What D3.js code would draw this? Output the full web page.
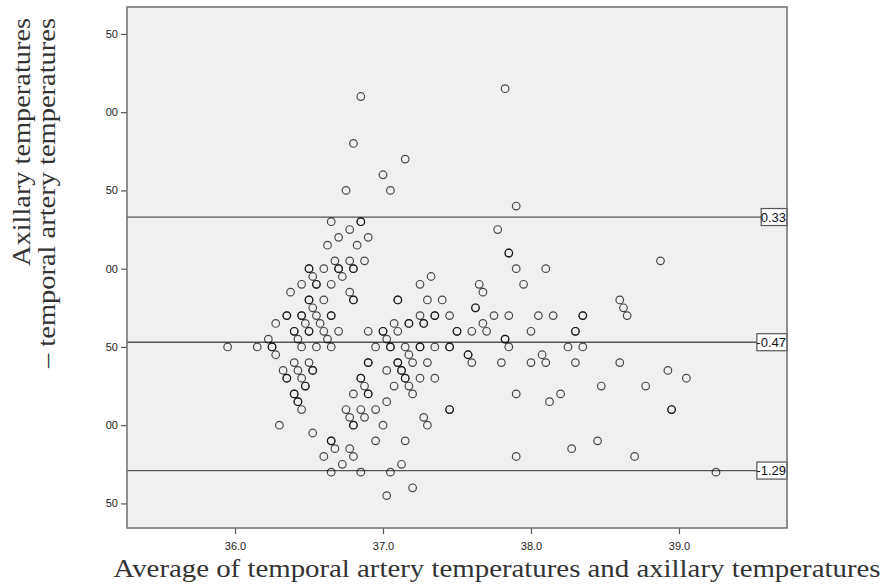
<!DOCTYPE html>
<html>
<head>
<meta charset="utf-8">
<script src="https://cdn.jsdelivr.net/npm/d3@7"></script>
<style>
  body { margin: 0; background: #fff; }
  svg { display: block; }
</style>
</head>
<body>
<svg id="chart" width="885" height="584"></svg>
<script>
// Bland-Altman plot: axillary vs temporal artery temperatures
const xTicks = [36, 37, 38, 39];
const xTickLabels = ['36.0', '37.0', '38.0', '39.0'];
const yTicks = [1.5, 1, 0.5, 0, -0.5, -1, -1.5];
const yTickLabels = ['50', '00', '50', '00', '50', '00', '50'];
const limitValues = [0.33, -0.47, -1.29];
const limitLabels = ['0.33', '-0.47', '-1.29'];
const xTitle = 'Average of temporal artery temperatures and axillary temperatures';
const yTitleLines = ['Axillary temperatures', '\u2013 temporal artery temperatures'];

// each row: [difference, averages...]  (repeated averages = overlapping points)
const diffRows = [
    [1.15, 37.825],
    [1.10, 36.85],
    [0.80, 36.80],
    [0.70, 37.15],
    [0.60, 37.00],
    [0.50, 36.75, 37.05],
    [0.40, 37.90],
    [0.30, 36.65, 36.85, 36.85],
    [0.25, 36.775, 37.775],
    [0.20, 36.70, 36.90],
    [0.15, 36.625, 36.825],
    [0.10, 37.85, 37.85],
    [0.05, 36.675, 36.775, 36.875, 38.875],
    [0, 36.50, 36.50, 36.60, 36.70, 36.70, 36.80, 36.80, 37.90, 38.10],
    [-0.05, 36.525, 36.725, 37.325],
    [-0.10, 36.45, 36.55, 36.55, 36.65, 37.25, 37.65, 37.95],
    [-0.15, 36.375, 36.775, 37.675],
    [-0.20, 36.50, 36.50, 36.60, 36.80, 36.80, 37.10, 37.10, 37.30, 37.40, 38.60],
    [-0.25, 36.525, 37.625, 37.625, 38.625],
    [-0.30, 36.35, 36.35, 36.45, 36.45, 36.55, 36.65, 36.65, 37.25, 37.35, 37.35, 37.45, 37.75, 37.85, 38.05, 38.15, 38.35, 38.35, 38.65],
    [-0.35, 36.275, 36.475, 36.575, 37.075, 37.175, 37.175, 37.275, 37.275, 37.675],
    [-0.40, 36.40, 36.40, 36.50, 36.50, 36.60, 36.70, 36.90, 37.00, 37.00, 37.10, 37.50, 37.50, 37.60, 37.70, 38.00, 38.30, 38.30],
    [-0.45, 36.225, 36.425, 36.625, 37.025, 37.825, 37.825],
    [-0.50, 35.95, 36.15, 36.25, 36.25, 36.45, 36.55, 36.65, 36.95, 37.05, 37.05, 37.15, 37.25, 37.25, 37.35, 37.45, 37.45, 37.85, 38.25, 38.35],
    [-0.55, 36.275, 37.175, 37.575, 37.575, 38.075],
    [-0.60, 36.40, 36.50, 36.90, 36.90, 37.10, 37.10, 37.20, 37.30, 37.60, 37.80, 38.00, 38.10, 38.30, 38.60],
    [-0.65, 36.325, 36.425, 36.525, 36.525, 37.025, 37.125, 37.125, 38.925],
    [-0.70, 36.35, 36.35, 36.45, 36.85, 36.85, 37.15, 37.15, 37.25, 37.35, 39.05],
    [-0.75, 36.475, 36.475, 36.875, 37.075, 37.175, 38.475, 38.775],
    [-0.80, 36.40, 36.40, 36.80, 36.90, 36.90, 37.20, 37.90, 38.20],
    [-0.85, 36.425, 36.425, 37.025, 38.125],
    [-0.90, 36.45, 36.75, 36.85, 36.95, 37.45, 37.45, 38.95, 38.95],
    [-0.95, 36.775, 36.875, 37.275],
    [-1.00, 36.30, 36.80, 36.80, 37.00, 37.30],
    [-1.05, 36.525],
    [-1.10, 36.65, 36.65, 36.95, 37.15, 38.45],
    [-1.15, 36.675, 36.775, 38.275],
    [-1.20, 36.60, 36.80, 37.90, 38.70],
    [-1.25, 36.725, 37.125],
    [-1.30, 36.65, 36.85, 37.05, 39.25],
    [-1.40, 37.20],
    [-1.45, 37.025]
];

const points = [];
diffRows.forEach(([diff, ...avgs]) => {
    avgs.forEach((avg) => points.push({ avg, diff }));
});

const svg = d3.select('#chart');
const plot = { left: 127, right: 787, top: 7, bottom: 528 };

const x = d3.scaleLinear().domain([35.27, 39.73]).range([plot.left, plot.right]);
const y = d3.scaleLinear().domain([-1.657, 1.672]).range([plot.bottom, plot.top]);

svg.append('rect')
    .attr('x', plot.left)
    .attr('y', plot.top)
    .attr('width', plot.right - plot.left)
    .attr('height', plot.bottom - plot.top)
    .attr('fill', '#f0f0f0');

// axes
const yAxis = svg.append('g')
    .attr('transform', `translate(${plot.left},0)`)
    .call(d3.axisLeft(y)
        .tickValues(yTicks)
        .tickSize(6)
        .tickPadding(3)
        .tickFormat((d, i) => yTickLabels[i]));

const xAxis = svg.append('g')
    .attr('transform', `translate(0,${plot.bottom})`)
    .call(d3.axisBottom(x)
        .tickValues(xTicks)
        .tickSize(6)
        .tickPadding(8)
        .tickFormat((d, i) => xTickLabels[i]));

[xAxis, yAxis].forEach((g) => {
    g.select('.domain').remove();
    g.selectAll('.tick line').attr('stroke', '#555').attr('stroke-width', 1.2);
    g.selectAll('.tick text')
        .attr('fill', '#222')
        .style('font-family', '"Liberation Sans", Arial, sans-serif')
        .style('font-size', '11px');
});

// limit lines
const limits = svg.append('g');
limits.selectAll('line')
    .data(limitValues)
    .join('line')
    .attr('x1', plot.left)
    .attr('x2', plot.right)
    .attr('y1', (d) => y(d))
    .attr('y2', (d) => y(d))
    .attr('stroke', '#555')
    .attr('stroke-width', 1.3);

// points
svg.append('g')
    .selectAll('circle')
    .data(points)
    .join('circle')
    .attr('cx', (d) => x(d.avg))
    .attr('cy', (d) => y(d.diff))
    .attr('r', 3.8)
    .attr('fill', 'none')
    .attr('stroke', '#000')
    .attr('stroke-opacity', 0.7)
    .attr('stroke-width', 1.2);

// limit labels
const labelG = limits.selectAll('g.lbl')
    .data(limitValues)
    .join('g')
    .attr('class', 'lbl');

labelG.each(function (d, i) {
    const g = d3.select(this);
    const rect = g.append('rect');
    const t = g.append('text')
        .attr('x', plot.right - 1)
        .attr('y', y(d) + 4.5)
        .attr('text-anchor', 'end')
        .attr('fill', '#111')
        .style('font-family', '"Liberation Sans", Arial, sans-serif')
        .style('font-size', '13px')
        .text(limitLabels[i]);
    const bb = t.node().getBBox();
    rect.attr('x', bb.x + 0.5)
        .attr('y', y(d) - 8.5)
        .attr('width', plot.right - bb.x - 0.5)
        .attr('height', 17)
        .attr('fill', '#fff')
        .attr('stroke', '#555')
        .attr('stroke-width', 1.2);
});

// frame
svg.append('rect')
    .attr('x', plot.left)
    .attr('y', plot.top)
    .attr('width', plot.right - plot.left)
    .attr('height', plot.bottom - plot.top)
    .attr('fill', 'none')
    .attr('stroke', '#6e6e6e')
    .attr('stroke-width', 1.5);

// titles
svg.append('text')
    .attr('x', 497)
    .attr('y', 577)
    .attr('text-anchor', 'middle')
    .attr('textLength', 767)
    .attr('lengthAdjust', 'spacingAndGlyphs')
    .attr('fill', '#333')
    .style('font-family', '"Liberation Serif", "Times New Roman", serif')
    .style('font-size', '25px')
    .text(xTitle);

const yTitleX = [30, 55];
const yTitleLen = [248, 350];
yTitleLines.forEach((line, i) => {
    svg.append('text')
        .attr('transform', `translate(${yTitleX[i]},18) rotate(-90)`)
        .attr('text-anchor', 'end')
        .attr('textLength', yTitleLen[i])
        .attr('lengthAdjust', 'spacingAndGlyphs')
        .attr('fill', '#333')
        .style('font-family', '"Liberation Serif", "Times New Roman", serif')
        .style('font-size', '25px')
        .text(line);
});
</script>
</body>
</html>
